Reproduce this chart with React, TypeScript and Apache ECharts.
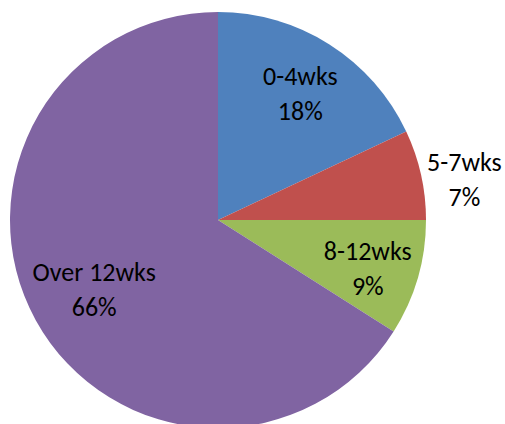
import React, { useEffect, useRef } from "react";
import * as echarts from "echarts";

const categories = ["0-4wks", "5-7wks", "8-12wks", "Over 12wks"];
const values = [18, 7, 9, 66];
const colors = ["#4F81BD", "#C0504D", "#9BBB59", "#8064A2"];
// label nudges from the default inside position
const labelDx = [25, 142, 47, -30];
const labelDy = [-36, -17, 19, 18];

export default function App() {
  const ref = useRef<HTMLDivElement>(null);
  useEffect(() => {
    if (!ref.current) return;
    const chart = echarts.init(ref.current, undefined, { renderer: "svg" });
    chart.setOption({
      animation: false,
      backgroundColor: "#ffffff",
      series: [
        {
          type: "pie",
          center: [218, 220],
          radius: [0, 208],
          startAngle: 90,
          clockwise: true,
          avoidLabelOverlap: false,
          data: categories.map((name, i) => ({
            name,
            value: values[i],
            itemStyle: { color: colors[i] },
          })),
          itemStyle: { borderWidth: 0 },
          label: {
            show: true,
            position: "inside",
            formatter: (p: any) => `${p.name}\n${p.value}%`,
            color: "#000000",
            fontFamily: "Carlito, Calibri, Lato, sans-serif",
            fontSize: 26,
            lineHeight: 35,
            align: "center",
          },
          labelLine: { show: false },
          labelLayout: (params: any) => ({
            dx: labelDx[params.dataIndex],
            dy: labelDy[params.dataIndex],
          }),
          emphasis: { disabled: true },
        },
      ],
    });
    return () => chart.dispose();
  }, []);
  return (
    <div
      ref={ref}
      style={{ position: "fixed", left: 0, top: 0, width: 505, height: 424 }}
    />
  );
}
